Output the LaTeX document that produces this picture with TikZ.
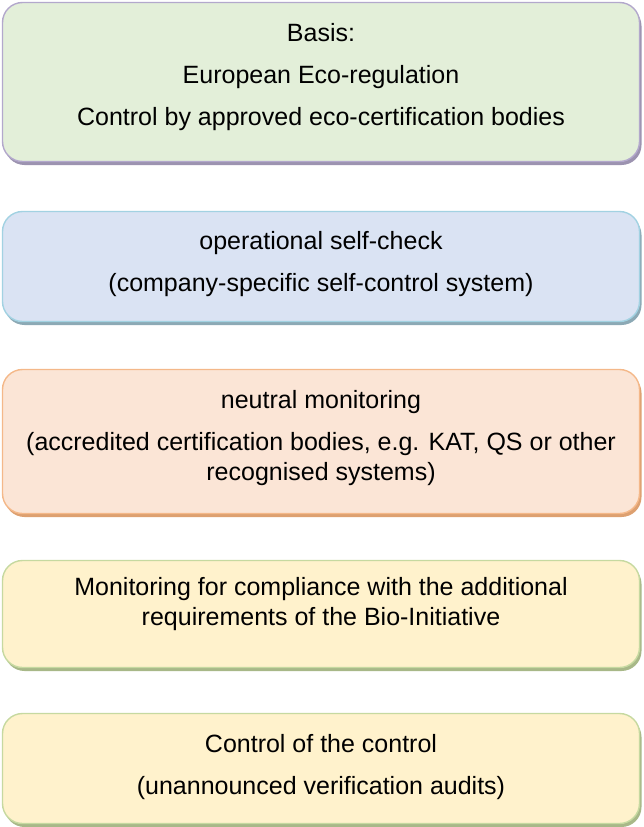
\documentclass[tikz,border=0pt]{standalone}
\usepackage{fontspec}
\setmainfont{Liberation Sans}
\usepackage{xcolor}
\usetikzlibrary{calc}

\definecolor{greenfill}{HTML}{E3EFD9}
\definecolor{purpleline}{HTML}{B3A8CC}
\definecolor{purpleshade}{HTML}{9C93B0}
\definecolor{bluefill}{HTML}{DAE3F3}
\definecolor{blueline}{HTML}{A2D2E2}
\definecolor{blueshade}{HTML}{8CA9B5}
\definecolor{orangefill}{HTML}{FBE5D6}
\definecolor{orangeline}{HTML}{F4B889}
\definecolor{orangeshade}{HTML}{DDA070}
\definecolor{yellowfill}{HTML}{FFF2CC}
\definecolor{yellowline}{HTML}{C6D9A0}
\definecolor{yellowshade}{HTML}{A8B888}

\tikzset{
  box/.style 2 args={draw=#1, fill=#2, line width=1.4pt, rounded corners=20pt,
    minimum width=637pt, align=center, inner sep=0pt,
    font=\fontsize{25}{30}\selectfont},
  shade/.style={preaction={fill=#1, transform canvas={shift={(2pt,-3.5pt)}}}}
}

\begin{document}
\begin{tikzpicture}[x=1pt,y=1pt]
\useasboundingbox (0,0) rectangle (643,-827);

% basis
\node[box={purpleline}{greenfill}, shade=purpleshade, minimum height=159pt, text depth=15pt] (basis) at (321,-82)
  {Basis:\\[12pt] European Eco-regulation\\[12pt] Control by approved eco-certification bodies};

% self-check
\node[box={blueline}{bluefill}, shade=blueshade, minimum height=110pt, text depth=11pt] (selfcheck) at (321,-266.5)
  {operational self-check\\[12pt] (company-specific self-control system)};

% neutral monitoring
\node[box={orangeline}{orangefill}, shade=orangeshade, minimum height=144pt, text depth=13pt] (neutral) at (321,-441.5)
  {neutral monitoring\\[12pt] (accredited certification bodies, e.g. KAT, QS or other\\ recognised systems)};

% bio-initiative
\node[box={yellowline}{yellowfill}, shade=yellowshade, minimum height=107pt, text depth=25pt] (bioinit) at (321,-614)
  {Monitoring for compliance with the additional\\ requirements of the Bio-Initiative};

% control of control
\node[box={yellowline}{yellowfill}, shade=yellowshade, minimum height=110pt, text depth=9pt] (ctrlctrl) at (321,-768.5)
  {Control of the control\\[12pt] (unannounced verification audits)};

\end{tikzpicture}
\end{document}
